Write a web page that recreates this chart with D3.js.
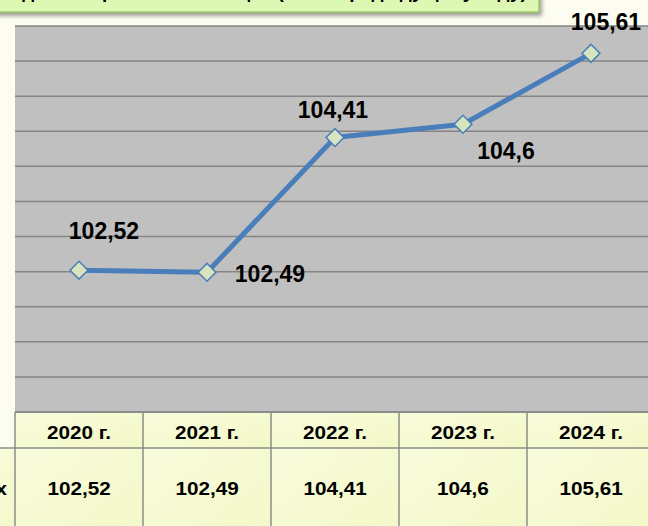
<!DOCTYPE html>
<html lang="ru">
<head>
    <meta charset="UTF-8">
    <title>Индекс</title>
    <script src="https://d3js.org/d3.v7.min.js"></script>
    <style>
        body {
            margin: 0;
            overflow: hidden;
            background-color: #fcfdf0;
            font-family: "Liberation Sans", Arial, sans-serif;
        }
        .grid line {
            stroke: #858585;
            stroke-width: 1.5px;
        }
        .point-label {
            font-size: 23px;
            font-weight: bold;
            fill: #000;
        }
        .cell-text {
            font-size: 18px;
            font-weight: bold;
            fill: #000;
        }
    </style>
</head>
<body>
    <svg width="648" height="526"></svg>
    <script>
        // data
        const title = "Индекс потребительских цен (в % к предыдущему году)";
        const years = ["2020 г.", "2021 г.", "2022 г.", "2023 г.", "2024 г."];
        const values = [102.52, 102.49, 104.41, 104.6, 105.61];
        const valueLabels = ["102,52", "102,49", "104,41", "104,6", "105,61"];
        const rowLabel = "Индекс, в процентах";

        // label placement around each point (dx, dy of label centre)
        const labelOffset = [[25, -39], [63, 2], [-2, -28], [43, 27], [15, -31]];

        const svg = d3.select("svg");

        const plotLeft = 15, plotTop = 26, plotBottom = 412, rowSplit = 448;
        const colW = 128;

        const x = d3.scaleBand()
            .domain(years)
            .range([plotLeft, plotLeft + colW * years.length]);

        const y = d3.scaleLinear()
            .domain([100.5, 106])
            .range([plotBottom, plotTop]);

        const defs = svg.append("defs");
        defs.append("filter")
            .attr("id", "shadow")
            .attr("x", "-5%").attr("y", "-50%")
            .attr("width", "115%").attr("height", "250%")
            .append("feDropShadow")
            .attr("dx", 2)
            .attr("dy", 3)
            .attr("stdDeviation", 2)
            .attr("flood-color", "#555")
            .attr("flood-opacity", 0.6);

        const cellGrad = defs.append("linearGradient")
            .attr("id", "cell")
            .attr("x1", "0%").attr("y1", "0%")
            .attr("x2", "100%").attr("y2", "100%");
        cellGrad.append("stop").attr("offset", "0%").attr("stop-color", "#f9fcdc");
        cellGrad.append("stop").attr("offset", "100%").attr("stop-color", "#f3f8c6");

        // plot area
        svg.append("rect")
            .attr("x", plotLeft)
            .attr("y", plotTop)
            .attr("width", 648 - plotLeft)
            .attr("height", plotBottom - plotTop)
            .attr("fill", "#c0c0c0");

        svg.append("g")
            .attr("class", "grid")
            .selectAll("line")
            .data(y.ticks(11).filter(d => d > 100.5))
            .join("line")
            .attr("x1", plotLeft)
            .attr("x2", 648)
            .attr("y1", d => y(d))
            .attr("y2", d => y(d));

        // title box (mostly cut off at the top)
        svg.append("rect")
            .attr("x", -10)
            .attr("y", -20)
            .attr("width", 549)
            .attr("height", 32)
            .attr("fill", "#dcf8b2")
            .attr("stroke", "#9dc75e")
            .attr("stroke-width", 1.5)
            .attr("filter", "url(#shadow)");

        svg.append("text")
            .attr("x", 262)
            .attr("y", -2)
            .attr("text-anchor", "middle")
            .style("font-size", "19px")
            .style("font-weight", "bold")
            .text(title);

        // table
        const table = svg.append("g");

        table.append("rect")
            .attr("x", -5)
            .attr("y", rowSplit)
            .attr("width", plotLeft + 5)
            .attr("height", 100)
            .attr("fill", "url(#cell)");

        table.selectAll("rect.head")
            .data(years)
            .join("rect")
            .attr("class", "head")
            .attr("x", d => x(d))
            .attr("y", plotBottom)
            .attr("width", x.bandwidth())
            .attr("height", rowSplit - plotBottom)
            .attr("fill", "url(#cell)");

        table.selectAll("rect.val")
            .data(years)
            .join("rect")
            .attr("class", "val")
            .attr("x", d => x(d))
            .attr("y", rowSplit)
            .attr("width", x.bandwidth())
            .attr("height", 100)
            .attr("fill", "url(#cell)");

        const border = "#8c8c8c";
        table.append("line")
            .attr("x1", plotLeft).attr("x2", 648)
            .attr("y1", plotBottom).attr("y2", plotBottom)
            .attr("stroke", border).attr("stroke-width", 2);
        table.append("line")
            .attr("x1", 0).attr("x2", 648)
            .attr("y1", rowSplit).attr("y2", rowSplit)
            .attr("stroke", border).attr("stroke-width", 1.5);
        table.selectAll("line.v")
            .data(years)
            .join("line")
            .attr("class", "v")
            .attr("x1", d => x(d)).attr("x2", d => x(d))
            .attr("y1", plotBottom).attr("y2", 526)
            .attr("stroke", border).attr("stroke-width", 1.5);

        table.selectAll("text.head")
            .data(years)
            .join("text")
            .attr("class", "cell-text head")
            .attr("text-anchor", "middle")
            .attr("transform", d => `translate(${x(d) + x.bandwidth() / 2},${432 + 6.5}) scale(1.15,1)`)
            .text(d => d);

        table.selectAll("text.val")
            .data(valueLabels)
            .join("text")
            .attr("class", "cell-text val")
            .attr("text-anchor", "middle")
            .attr("transform", (d, i) => `translate(${x(years[i]) + x.bandwidth() / 2},${488 + 6.5}) scale(1.15,1)`)
            .text(d => d);

        table.append("text")
            .attr("class", "cell-text")
            .attr("text-anchor", "end")
            .attr("transform", `translate(7,${488 + 6.5}) scale(1.15,1)`)
            .text(rowLabel);

        // series
        const cx = (d, i) => x(years[i]) + x.bandwidth() / 2;

        svg.append("path")
            .datum(values)
            .attr("fill", "none")
            .attr("stroke", "#4a7ebb")
            .attr("stroke-width", 5)
            .attr("stroke-linejoin", "round")
            .attr("d", d3.line().x(cx).y(d => y(d)));

        svg.selectAll("path.marker")
            .data(values)
            .join("path")
            .attr("class", "marker")
            .attr("d", d3.symbol(d3.symbolSquare, 160)())
            .attr("transform", (d, i) => `translate(${cx(d, i)},${y(d)}) rotate(45)`)
            .attr("fill", "#d7e4bd")
            .attr("stroke", "#4a7ebb")
            .attr("stroke-width", 1.5);

        svg.selectAll("text.point-label")
            .data(values)
            .join("text")
            .attr("class", "point-label")
            .attr("text-anchor", "middle")
            .attr("x", (d, i) => cx(d, i) + labelOffset[i][0])
            .attr("y", (d, i) => y(d) + labelOffset[i][1] + 8)
            .text((d, i) => valueLabels[i]);
    </script>
</body>
</html>
